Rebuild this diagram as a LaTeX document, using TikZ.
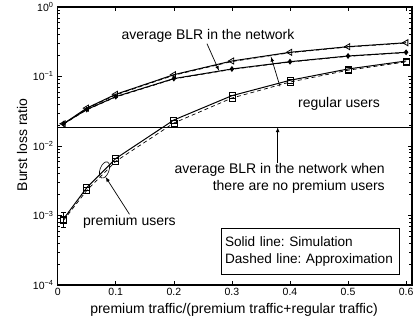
\documentclass[tikz,border=0pt]{standalone}
\usepackage{fontspec}
\setmainfont{Liberation Sans}
\usetikzlibrary{arrows,plotmarks,shapes.geometric}
\frenchspacing

\newcommand{\ticklbl}{\fontsize{10.5}{12}\selectfont}
\newcommand{\dec}[1]{10\textsuperscript{#1}}

\tikzset{
  frame/.style={line width=1.3pt},
  simline/.style={line width=1pt},
  apxline/.style={line width=0.7pt,dash pattern=on 4pt off 3pt},
  note/.style={inner sep=1pt},
  pointer/.style={->,line width=0.7pt}
}

\begin{document}
\begin{tikzpicture}[x=580.7pt,y=69.5pt,>=latex,font=\fontsize{14}{16.5}\selectfont]
  \useasboundingbox (-0.0994,-4.518) rectangle (0.6136,0.1007);

  % axes box and ticks
  \draw[frame] (0,-4) rectangle (0.61,0);
  \foreach \x in {0,0.1,0.2,0.3,0.4,0.5,0.6} {
    \draw[line width=0.6pt] (\x,-4) -- ++(0,4pt) (\x,0) -- ++(0,-4pt);
    \node[anchor=north,font=\ticklbl,inner sep=1pt] (xt\x) at ([yshift=-2pt]\x,-4) {\x};
  }
  \foreach \d in {0,-1,-2,-3,-4} {
    \draw[line width=0.6pt] (0,\d) -- ++(4pt,0) (0.61,\d) -- ++(-4pt,0);
    \node[anchor=east,font=\ticklbl,inner sep=1pt] (yt\d) at ([xshift=-3pt]0,\d) {\dec{\ifnum\d=0 0\else −\the\numexpr-\d\relax\fi}};
  }
  \foreach \d in {-4,-3,-2,-1}
    \foreach \m in {2,...,9}
      \draw[line width=0.5pt] (0,{\d+log10(\m)}) -- ++(2.5pt,0) (0.61,{\d+log10(\m)}) -- ++(-2.5pt,0);

  \node[rotate=90] (ylab) at (-0.0615,-1.986) {Burst loss ratio};
  \node (xlab) at (0.3036,-4.36) {premium traffic/(premium traffic+regular traffic)};

  % no premium users level
  \draw[simline] (0,-1.73) -- (0.61,-1.73);

  % average BLR
  \draw[simline] plot[mark=triangle,mark size=3.5pt,mark options={rotate=90,solid,line width=0.8pt}] coordinates {
    (0.01,-1.68) (0.05,-1.455) (0.1,-1.256) (0.2,-0.974) (0.3,-0.777) (0.4,-0.652) (0.5,-0.571) (0.6,-0.514)};
  \draw[apxline] plot coordinates {
    (0.01,-1.685) (0.05,-1.462) (0.1,-1.265) (0.2,-0.982) (0.3,-0.785) (0.4,-0.658) (0.5,-0.576) (0.6,-0.519)};

  % regular users
  \draw[simline] plot[mark=diamond*,mark size=2.2pt,mark options={solid}] coordinates {
    (0.01,-1.68) (0.05,-1.475) (0.1,-1.29) (0.2,-1.03) (0.3,-0.892) (0.4,-0.787) (0.5,-0.705) (0.6,-0.652)};
  \draw[apxline] plot coordinates {
    (0.01,-1.685) (0.05,-1.48) (0.1,-1.296) (0.2,-1.036) (0.3,-0.897) (0.4,-0.792) (0.5,-0.71) (0.6,-0.657)};

  % premium users
  \draw[simline] plot[mark=square,mark size=3pt,mark options={solid,line width=0.8pt}] coordinates {
    (0.01,-3.05) (0.05,-2.6) (0.1,-2.18) (0.2,-1.626) (0.3,-1.276) (0.4,-1.055) (0.5,-0.892) (0.6,-0.777)};
  \draw[apxline] plot[mark=square,mark size=3pt,mark options={solid,line width=0.6pt}] coordinates {
    (0.01,-3.07) (0.05,-2.64) (0.1,-2.22) (0.2,-1.67) (0.3,-1.31) (0.4,-1.08) (0.5,-0.91) (0.6,-0.79)};
  \draw[line width=0.6pt] (0.01,-2.95) -- (0.01,-3.165)
    ([xshift=-2.5pt]0.01,-3.165) -- ([xshift=2.5pt]0.01,-3.165)
    ([xshift=-2.5pt]0.01,-2.95) -- ([xshift=2.5pt]0.01,-2.95);

  % annotations
  \node[note] (avgtxt) at (0.2588,-0.417) {average BLR in the network};
  \coordinate (avgpt) at (0.2778,-0.917);
  \draw[pointer] ([xshift=-1pt]avgtxt.south) -- (avgpt);

  \node[note] (regtxt) at (0.4844,-1.396) {regular users};
  \coordinate (regpt) at (0.3673,-0.715);
  \draw[pointer] ([xshift=-17pt,yshift=10pt]regtxt.north west) -- (regpt);

  \node[note,align=right,anchor=east] (noptxt) at (0.5653,-2.468)
    {average BLR in the network when\\there are no premium users};
  \coordinate (noppt) at (0.3788,-1.73);
  \draw[pointer] (noptxt.north -| noppt) -- (noppt);

  \node[draw,ellipse,minimum width=9pt,minimum height=17pt,inner sep=0pt,rotate=-20,line width=0.6pt] (premell) at (0.0806,-2.345) {};
  \node[note] (premtxt) at (0.1236,-3.094) {premium users};
  \draw[pointer] (premtxt.north) -- (premell.south east);

  % legend
  \node[draw,line width=0.7pt,align=left,inner xsep=3.5pt,inner ysep=3pt,anchor=north west,text width=171pt,
        minimum height=46pt,font=\fontsize{13.6}{16.5}\selectfont]
    (legend) at (0.2816,-3.18) {Solid line: Simulation\\Dashed line: Approximation};
\end{tikzpicture}
\end{document}
